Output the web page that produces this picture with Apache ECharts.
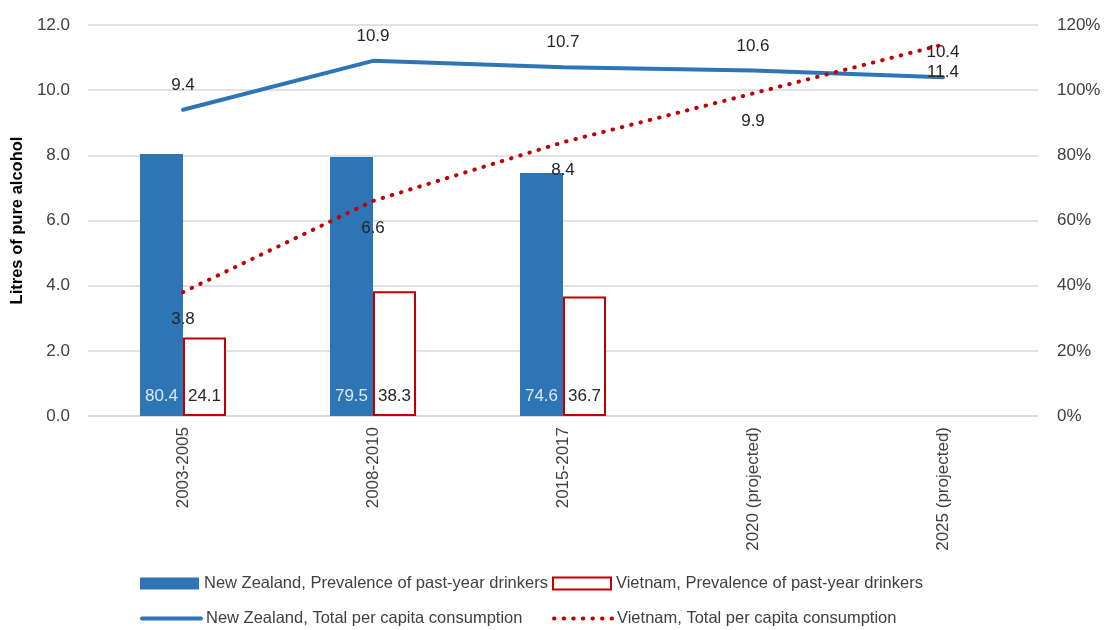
<!DOCTYPE html>
<html>
<head>
<meta charset="utf-8">
<script src="https://cdn.jsdelivr.net/npm/echarts@6/dist/echarts.min.js"></script>
<style>
  html, body { margin: 0; padding: 0; background: #fff; }
  #chart { width: 1105px; height: 630px; }
</style>
</head>
<body>
<div id="chart"></div>
<script>
// Categories (survey periods and projections)
const categories = ['2003-2005', '2008-2010', '2015-2017', '2020 (projected)', '2025 (projected)'];

// Prevalence of past-year drinkers (%), right axis
const nzPrevalence = [80.4, 79.5, 74.6, null, null];
const vnPrevalence = [24.1, 38.3, 36.7, null, null];

// Total per capita consumption (litres of pure alcohol), left axis
const nzConsumption = [9.4, 10.9, 10.7, 10.6, 10.4];
const vnConsumption = [3.8, 6.6, 8.4, 9.9, 11.4];

// Axis ticks
const leftTicks = { min: 0, max: 12, interval: 2 };
const rightTicks = { min: 0, max: 120, interval: 20 };

const FONT = "'Liberation Sans', Arial, sans-serif";
const TEXT = '#404040';
const BLUE = '#2E75B6';
const RED = '#C00000';
const DOTS = [0.5, 9.1];

const names = {
  nzP: 'New Zealand, Prevalence of past-year drinkers',
  vnP: 'Vietnam, Prevalence of past-year drinkers',
  nzC: 'New Zealand, Total per capita consumption',
  vnC: 'Vietnam, Total per capita consumption'
};

function legendAt(item, left, top, w, h, extra) {
  return Object.assign({
    data: [item], left: left, top: top, itemWidth: w, itemHeight: h, itemGap: 6,
    textStyle: { fontFamily: FONT, fontSize: 16.5, color: TEXT },
    padding: 0
  }, extra || {});
}

const chart = echarts.init(document.getElementById('chart'), null, { renderer: 'canvas' });

chart.setOption({
  animation: false,
  backgroundColor: '#fff',
  textStyle: { fontFamily: FONT },
  grid: { left: 88, right: 67, top: 25, bottom: 214, containLabel: false, outerBoundsMode: 'none' },
  legend: [
    legendAt({ name: names.nzP, icon: 'rect' }, 140, 575, 59, 12),
    legendAt({ name: names.vnP, icon: 'rect' }, 552, 575, 58, 12),
    legendAt({ name: names.nzC }, 140, 610, 59, 14, {
      itemStyle: { opacity: 0 },
      lineStyle: { width: 4, color: BLUE, cap: 'round' }
    }),
    legendAt({ name: names.vnC }, 552, 610, 58, 14, {
      itemStyle: { opacity: 0 },
      lineStyle: { width: 4, color: RED, type: DOTS, cap: 'round' }
    })
  ],
  xAxis: {
    type: 'category',
    data: categories,
    axisLine: { show: true, lineStyle: { color: '#d9d9d9', width: 1.5 } },
    axisTick: { show: false },
    axisLabel: { rotate: 90, fontFamily: FONT, fontSize: 17, color: TEXT, margin: 11, interval: 0 }
  },
  yAxis: [
    {
      type: 'value',
      min: leftTicks.min, max: leftTicks.max, interval: leftTicks.interval,
      name: 'Litres of pure alcohol',
      nameLocation: 'middle',
      nameRotate: 90,
      nameGap: 62,
      nameTextStyle: { fontFamily: FONT, fontSize: 16.5, fontWeight: 'bold', color: '#000' },
      axisLine: { show: false },
      axisTick: { show: false },
      axisLabel: { fontFamily: FONT, fontSize: 17, color: TEXT, margin: 18, formatter: v => v.toFixed(1) },
      splitLine: { show: true, lineStyle: { color: '#d9d9d9', width: 1.5 } }
    },
    {
      type: 'value',
      min: rightTicks.min, max: rightTicks.max, interval: rightTicks.interval,
      axisLine: { show: false },
      axisTick: { show: false },
      axisLabel: { fontFamily: FONT, fontSize: 17, color: TEXT, margin: 19, formatter: '{value}%' },
      splitLine: { show: false }
    }
  ],
  series: [
    {
      name: names.nzP,
      type: 'bar',
      yAxisIndex: 1,
      data: nzPrevalence,
      barWidth: 43,
      barGap: '0%',
      itemStyle: { color: BLUE },
      label: {
        show: true, position: 'insideBottom', distance: 11,
        fontFamily: FONT, fontSize: 17, color: '#dbe8f6'
      }
    },
    {
      name: names.vnP,
      type: 'bar',
      yAxisIndex: 1,
      data: vnPrevalence,
      barWidth: 43,
      barGap: '0%',
      itemStyle: { color: '#fff', borderColor: RED, borderWidth: 2 },
      label: {
        show: true, position: 'insideBottom', distance: 11,
        fontFamily: FONT, fontSize: 17, color: '#262626'
      }
    },
    {
      name: names.nzC,
      type: 'line',
      yAxisIndex: 0,
      data: nzConsumption,
      symbol: 'circle',
      symbolSize: 0.1,
      showSymbol: true,
      itemStyle: { color: BLUE },
      lineStyle: { color: BLUE, width: 4, cap: 'round' },
      label: {
        show: true, position: 'top', distance: 16,
        fontFamily: FONT, fontSize: 17, color: '#262626',
        formatter: p => p.value.toFixed(1)
      },
      z: 3
    },
    {
      name: names.vnC,
      type: 'line',
      yAxisIndex: 0,
      data: vnConsumption,
      symbol: 'circle',
      symbolSize: 0.1,
      showSymbol: true,
      itemStyle: { color: RED },
      lineStyle: { color: RED, width: 4, type: DOTS, cap: 'round' },
      label: {
        show: true, position: 'bottom', distance: 19,
        fontFamily: FONT, fontSize: 17, color: '#262626',
        formatter: p => p.value.toFixed(1)
      },
      z: 4
    }
  ]
});
</script>
</body>
</html>
